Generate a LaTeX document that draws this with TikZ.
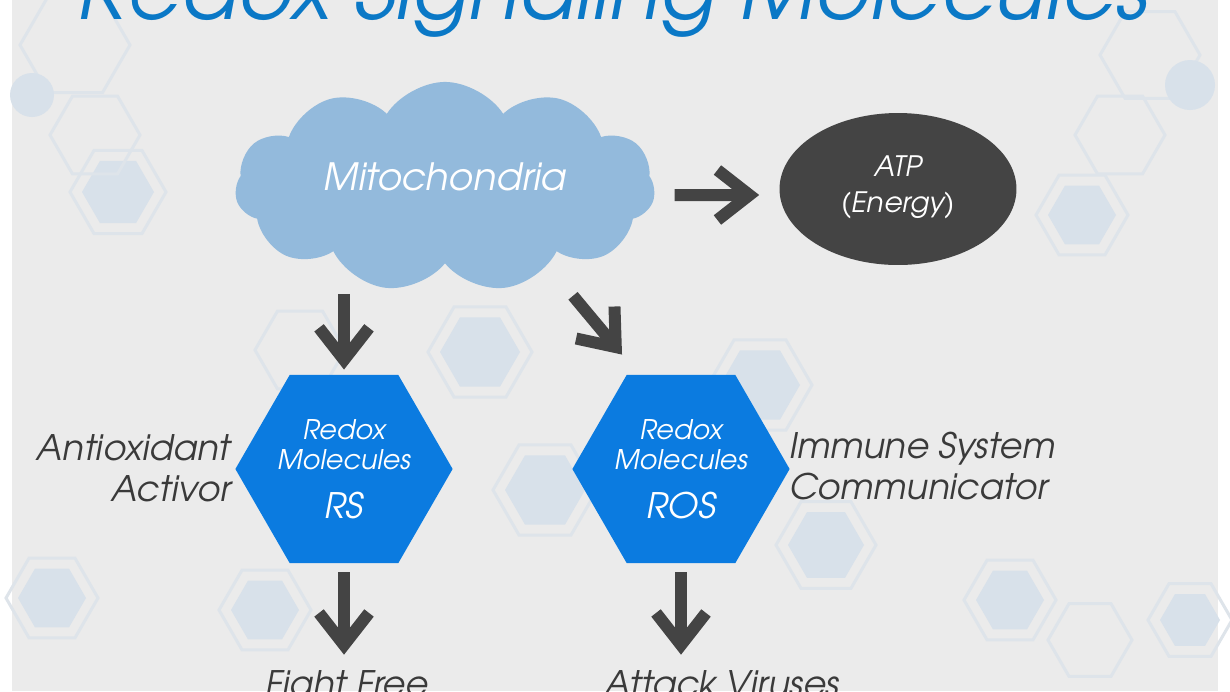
\documentclass[tikz,border=0pt]{standalone}
\usepackage{fontspec}
\setmainfont{TeX Gyre Adventor}
\definecolor{pagegray}{HTML}{EBEBEB}
\definecolor{titleblue}{HTML}{0A78C6}
\definecolor{cloudblue}{HTML}{93BADC}
\definecolor{hexblue}{HTML}{0B7BE0}
\definecolor{charcoal}{HTML}{444444}
\definecolor{labelgray}{HTML}{3A3A3A}
\definecolor{hexfaint}{HTML}{D8E1EA}
\definecolor{hexring}{HTML}{DEE4EA}
\usetikzlibrary{arrows.meta,shapes.geometric,shapes.symbols,calc}

\begin{document}
\begin{tikzpicture}[x=0.02cm, y=-0.02cm,
  mol/.style={regular polygon, regular polygon sides=6, fill=hexblue,
    minimum size=4.24cm, inner sep=0pt, text=white, align=center,
    font=\itshape\fontsize{15.4}{17}\selectfont},
  side/.style={text=labelgray, inner sep=0pt,
    font=\itshape\fontsize{20}{23.4}\selectfont},
  arr/.style={-{Straight Barb[length=0.64cm, width=1.0cm]}, charcoal,
    line width=0.24cm}
]
  \useasboundingbox (0,0) rectangle (1230,691);
  \clip (0,0) rectangle (1230,691);
  \fill[white] (0,0) rectangle (1230,691);
  \fill[pagegray] (12,0) rectangle (1218,691);

  % faint hexagons in the background
  \foreach \hx/\hy/\hr in {118/192/36, 480/352/40, 760/385/40, 545/490/40,
      826/545/38, 1010/600/34, 265/610/34, 52/598/34, 1082/215/34, 1190/620/30}
  {
    \fill[hexfaint] (\hx,\hy) +(0:\hr) -- +(60:\hr) -- +(120:\hr)
      -- +(180:\hr) -- +(240:\hr) -- +(300:\hr) -- cycle;
    \draw[hexring, line width=0.06cm] (\hx,\hy) +(0:\hr+12) -- +(60:\hr+12)
      -- +(120:\hr+12) -- +(180:\hr+12) -- +(240:\hr+12) -- +(300:\hr+12) -- cycle;
  }
  \foreach \hx/\hy/\hr in {75/45/55, 95/135/45, 300/350/45, 1150/55/50,
      1120/135/45, 1090/640/42}
  {
    \draw[hexring, line width=0.06cm] (\hx,\hy) +(0:\hr) -- +(60:\hr)
      -- +(120:\hr) -- +(180:\hr) -- +(240:\hr) -- +(300:\hr) -- cycle;
  }
  \fill[hexfaint] (32,95) circle (22);
  \fill[hexfaint] (1190,85) circle (25);

  % title
  \node[text=titleblue, font=\itshape\fontsize{47.4}{48}\selectfont, anchor=base,
    inner sep=0pt] (title) at (613,19) {Redox Signaling Molecules};

  % nodes
  \node[cloud, cloud puffs=11, cloud puff arc=115, aspect=2.1, fill=cloudblue,
    minimum width=8.4cm, minimum height=3.94cm, inner sep=0pt, text=white,
    font=\itshape\fontsize{21.4}{24}\selectfont] (mito) at (445,187)
    {\raisebox{0.2cm}[\height][\depth]{Mitochondria}};
  \node[ellipse, fill=charcoal, minimum width=4.74cm, minimum height=3.04cm,
    text=white, align=center, font=\itshape\fontsize{16}{18.5}\selectfont]
    (atp) at (898,189) {\raisebox{0.06cm}[\height][\depth]{ATP}\\(Energy)};
  \node[mol] (rs) at (344,469)
    {Redox\\Molecules\\[11pt]{\fontsize{20}{20}\selectfont RS}};
  \node[mol] (ros) at (681,469)
    {Redox\\Molecules\\[11pt]{\fontsize{20}{20}\selectfont ROS}};

  \node[side, align=right, anchor=east] (antiox) at (231,468) {Antioxidant\\Activor};
  \node[side, align=left, anchor=west] (immune) at (789,466) {Immune System\\Communicator};
  \node[side, anchor=base] (fight) at (347,696) {Fight Free};
  \node[side, anchor=base] (attack) at (722,696) {Attack Viruses};

  % arrows
  \draw[arr] ($(mito.east)+(20,8)$) -- ($(atp.west)+(-20,6)$);
  \draw[arr, shorten <=0.6cm, shorten >=0.1cm] (rs.north |- mito.south) -- (rs.north);
  \draw[arr] ($(mito.south)+(128,32)$) -- ($(ros.north)+(-59,-20)$);
  \draw[arr, shorten <=0.18cm, shorten >=0.3cm] (rs.south) -- (rs.south |- fight.north);
  \draw[arr, shorten <=0.18cm, shorten >=0.3cm] (ros.south) -- (ros.south |- attack.north);
\end{tikzpicture}
\end{document}
